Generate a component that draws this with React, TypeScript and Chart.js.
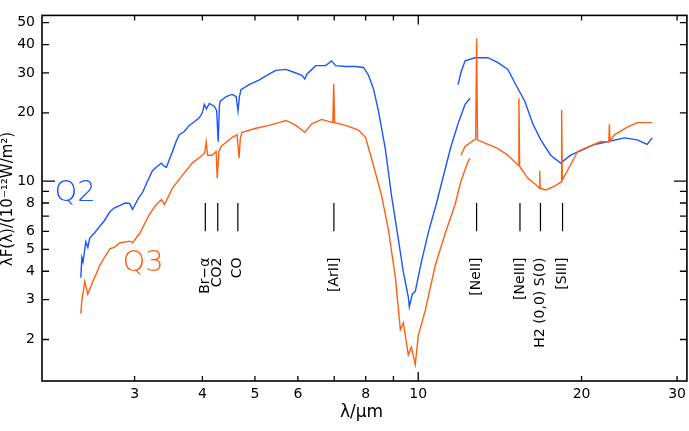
import React, { useEffect, useRef } from "react";
import { Chart, registerables } from "chart.js";

Chart.register(...registerables);

// Q2 spectrum (wavelength in µm, λF(λ) in 1e-12 W/m²); null marks the module break
const q2Wave = [2.388, 2.398, 2.41, 2.439, 2.46, 2.48, 2.53, 2.587, 2.64, 2.7, 2.75, 2.816, 2.88, 2.937, 2.975, 3.0, 3.05, 3.103, 3.17, 3.236, 3.3, 3.362, 3.405, 3.434, 3.48, 3.523, 3.58, 3.627, 3.7, 3.784, 3.87, 3.948, 4.0, 4.032, 4.07, 4.118, 4.206, 4.25, 4.278, 4.3, 4.314, 4.425, 4.539, 4.616, 4.654, 4.68, 4.713, 4.876, 5.087, 5.306, 5.465, 5.702, 5.898, 6.101, 6.179, 6.232, 6.471, 6.75, 6.923, 7.042, 7.346, 7.663, 7.928, 8.097, 8.27, 8.445, 8.699, 8.923, 9.19, 9.386, 9.587, 9.627, 9.75, 9.874, 10.13, 10.45, 10.79, 11.21, 11.49, 11.84, 12.2, 12.46, 12.47, 11.84, 11.99, 12.2, 12.72, 13.44, 14.03, 14.63, 15.13, 15.72, 16.26, 16.82, 17.54, 18.3, 19.09, 19.91, 21.13, 22.32, 23.98, 25.33, 26.42, 27.0];
const q2Flux = [3.75, 4.6, 4.4, 5.4, 5.1, 5.6, 5.9, 6.3, 6.7, 7.3, 7.6, 7.8, 8.0, 7.96, 7.5, 7.8, 8.4, 8.9, 10.0, 11.1, 11.6, 12.0, 11.6, 11.5, 12.5, 13.5, 15.0, 16.0, 16.5, 17.6, 18.3, 19.0, 20.0, 21.8, 20.8, 22.0, 21.4, 20.5, 14.9, 21.5, 22.5, 23.6, 24.1, 23.6, 20.4, 23.5, 25.3, 26.6, 27.9, 29.6, 30.8, 31.1, 30.2, 29.3, 28.2, 29.6, 32.3, 32.3, 33.9, 32.3, 32.0, 32.0, 31.7, 29.3, 25.5, 20.4, 13.8, 8.69, 5.54, 3.97, 3.08, 2.79, 3.17, 3.26, 4.38, 6.0, 7.88, 11.3, 14.2, 17.9, 21.8, 23.2, null, 26.6, 30.2, 33.9, 35.0, 35.0, 33.3, 31.1, 26.6, 22.5, 17.9, 15.2, 13.0, 12.0, 13.0, 13.6, 14.5, 14.9, 15.5, 15.2, 14.5, 15.5];

// Q3 spectrum
const q3Wave = [2.388, 2.398, 2.428, 2.459, 2.512, 2.55, 2.587, 2.64, 2.7, 2.75, 2.816, 2.937, 2.975, 3.0, 3.064, 3.196, 3.291, 3.362, 3.405, 3.523, 3.673, 3.832, 3.998, 4.04, 4.066, 4.09, 4.171, 4.24, 4.26, 4.29, 4.332, 4.539, 4.634, 4.674, 4.7, 4.733, 5.022, 5.306, 5.535, 5.702, 5.948, 6.179, 6.365, 6.637, 6.96, 6.985, 7.01, 7.346, 7.761, 7.995, 8.2, 8.553, 8.81, 9.076, 9.268, 9.386, 9.587, 9.71, 9.874, 10.0, 10.3, 10.75, 11.21, 11.69, 11.99, 12.35, 12.46, 12.47, 11.99, 12.2, 12.67, 12.76, 12.81, 12.86, 13.44, 14.03, 14.63, 15.26, 15.3, 15.33, 15.38, 15.92, 16.6, 16.72, 16.75, 16.78, 17.18, 17.84, 18.33, 18.38, 18.43, 19.09, 19.67, 20.51, 21.67, 22.45, 22.51, 22.57, 22.99, 24.28, 25.33, 27.0];
const q3Flux = [2.6, 2.96, 3.6, 3.17, 3.6, 3.9, 4.25, 4.6, 5.02, 5.1, 5.33, 5.43, 5.35, 5.5, 5.87, 7.15, 7.88, 8.28, 7.88, 9.31, 10.6, 12.0, 13.0, 13.3, 14.9, 13.0, 13.0, 13.5, 10.3, 13.5, 14.2, 15.6, 16.0, 12.6, 15.5, 16.4, 17.1, 17.6, 18.1, 18.5, 17.6, 16.4, 17.9, 18.7, 18.1, 26.8, 18.1, 17.6, 16.8, 15.6, 12.6, 8.69, 6.11, 3.74, 2.21, 2.37, 1.71, 1.85, 1.55, 2.08, 2.68, 4.25, 5.87, 7.88, 10.0, 12.2, 12.6, null, 13.0, 14.2, 15.2, 15.2, 42.5, 15.2, 14.5, 13.9, 13.0, 11.8, 11.7, 23.2, 11.6, 10.3, 9.49, 9.3, 11.1, 9.3, 9.13, 9.49, 9.9, 20.6, 10.1, 11.8, 13.5, 14.1, 14.9, 14.9, 17.8, 15.0, 16.0, 17.3, 18.1, 18.1];

// spectral line identifications
const lineNames = ["Br\u2212\u03b1", "CO2", "CO", "[ArII]", "[NeII]", "[NeIII]", "H2 (0,0) S(0)", "[SIII]"];
const lineWaves = [4.05, 4.27, 4.65, 6.99, 12.81, 15.4, 16.8, 18.45];
const markerFluxTop = 8.0;
const markerFluxBottom = 6.0;
const labelFluxEnd = 4.6;

// axis ticks
const xTickLabels = [3, 4, 5, 6, 8, 10, 20, 30];
const xTickMarks = [3, 4, 5, 6, 7, 8, 9, 10, 20, 30];
const yTickLabels = [2, 3, 4, 5, 6, 8, 10, 20, 30, 40, 50];
const yTickMarks = [2, 3, 4, 5, 6, 7, 8, 9, 10, 20, 30, 40, 50];
const xMin = 2.025, xMax = 31.28, yMin = 1.312, yMax = 53.8;

const BLUE = "#1a55ff";
const ORANGE = "#ff6010";

// series labels placed in data coordinates
const seriesLabels = [
  { text: "Q2", wave: 2.33, flux: 8.8, color: BLUE },
  { text: "Q3", wave: 3.11, flux: 4.35, color: ORANGE },
];

const toPoints = (xs: number[], ys: (number | null)[]) => xs.map((x, i) => ({ x, y: ys[i] }));

const decorPlugin = {
  id: "decor",
  afterDraw(chart: any) {
    const { ctx, chartArea: a, scales } = chart;
    const xs = scales.x, ys = scales.y;
    ctx.save();
    ctx.strokeStyle = "#000";
    ctx.fillStyle = "#000";
    ctx.lineWidth = 1.6;
    ctx.strokeRect(a.left, a.top, a.right - a.left, a.bottom - a.top);
    ctx.lineWidth = 1.3;
    ctx.beginPath();
    xTickMarks.forEach((v) => {
      const px = xs.getPixelForValue(v);
      const len = v === 10 ? 9 : 5;
      ctx.moveTo(px, a.bottom); ctx.lineTo(px, a.bottom - len);
      ctx.moveTo(px, a.top); ctx.lineTo(px, a.top + len);
    });
    yTickMarks.forEach((v) => {
      const py = ys.getPixelForValue(v);
      const len = v === 10 ? 13 : 7;
      ctx.moveTo(a.left, py); ctx.lineTo(a.left + len, py);
      ctx.moveTo(a.right, py); ctx.lineTo(a.right - len, py);
    });
    ctx.stroke();

    // line markers and labels
    ctx.lineWidth = 1.2;
    ctx.beginPath();
    lineWaves.forEach((w) => {
      const px = xs.getPixelForValue(w);
      ctx.moveTo(px, ys.getPixelForValue(markerFluxTop));
      ctx.lineTo(px, ys.getPixelForValue(markerFluxBottom));
    });
    ctx.stroke();
    ctx.font = "14px 'DejaVu Sans'";
    ctx.textAlign = "right";
    ctx.textBaseline = "middle";
    lineNames.forEach((name, i) => {
      const px = xs.getPixelForValue(lineWaves[i]);
      const py = ys.getPixelForValue(labelFluxEnd);
      ctx.save();
      ctx.translate(px, py);
      ctx.rotate(-Math.PI / 2);
      ctx.fillText(name, 0, 0);
      ctx.restore();
    });

    // series labels
    ctx.font = "200 29px 'DejaVu Sans'";
    ctx.textAlign = "center";
    seriesLabels.forEach((s) => {
      ctx.fillStyle = s.color;
      ctx.fillText(s.text, xs.getPixelForValue(s.wave), ys.getPixelForValue(s.flux));
    });

    // axis titles
    ctx.fillStyle = "#000";
    ctx.font = "15px 'DejaVu Sans'";
    ctx.save();
    ctx.translate(8, 199);
    ctx.rotate(-Math.PI / 2);
    ctx.textAlign = "center";
    ctx.fillText("\u03bbF(\u03bb)/(10\u207b\u00b9\u00b2W/m\u00b2)", 0, 0);
    ctx.restore();
    ctx.font = "17px 'DejaVu Sans'";
    ctx.textAlign = "center";
    ctx.fillText("\u03bb/\u03bcm", (a.left + a.right) / 2 - 3, 413);
    ctx.restore();
  },
};

export default function App() {
  const ref = useRef<HTMLCanvasElement>(null);
  useEffect(() => {
    if (!ref.current) return;
    const chart = new Chart(ref.current, {
      type: "scatter",
      data: {
        datasets: [
          { label: "Q3", data: toPoints(q3Wave, q3Flux), borderColor: ORANGE, borderWidth: 1.4, showLine: true, pointRadius: 0, spanGaps: false },
          { label: "Q2", data: toPoints(q2Wave, q2Flux), borderColor: BLUE, borderWidth: 1.4, showLine: true, pointRadius: 0, spanGaps: false },
        ],
      },
      options: {
        animation: false,
        responsive: false,
        devicePixelRatio: 1,
        layout: { padding: { top: 1, right: 1, left: 0, bottom: 0 } },
        plugins: { legend: { display: false }, tooltip: { enabled: false } },
        scales: {
          x: {
            type: "logarithmic",
            min: xMin,
            max: xMax,
            bounds: "data",
            grid: { display: false, drawTicks: false },
            border: { display: false },
            afterBuildTicks: (s: any) => { s.ticks = xTickLabels.map((v) => ({ value: v })); },
            afterFit: (s: any) => { s.height = 50; },
            ticks: {
              autoSkip: false,
              maxRotation: 0,
              padding: 5,
              color: "#000",
              font: { family: "'DejaVu Sans'", size: 14 },
              callback: (v: any) => String(v),
            },
          },
          y: {
            type: "logarithmic",
            min: yMin,
            max: yMax,
            bounds: "data",
            grid: { display: false, drawTicks: false },
            border: { display: false },
            afterBuildTicks: (s: any) => { s.ticks = yTickLabels.map((v) => ({ value: v })); },
            afterFit: (s: any) => { s.width = 42; },
            ticks: {
              autoSkip: false,
              padding: 7,
              color: "#000",
              font: { family: "'DejaVu Sans'", size: 14 },
              callback: (v: any) => String(v),
            },
          },
        },
      },
      plugins: [decorPlugin],
    });
    return () => chart.destroy();
  }, []);
  return (
    <div style={{ position: "absolute", left: 0, top: 0, width: 689, height: 431, overflow: "hidden", background: "#fff" }}>
      <canvas ref={ref} width={691} height={431} style={{ width: 691, height: 431, display: "block" }} />
    </div>
  );
}
